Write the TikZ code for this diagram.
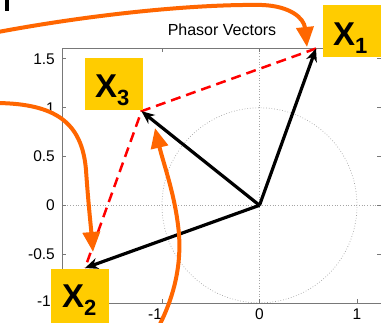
\documentclass[tikz,border=0pt]{standalone}
\usepackage{fontspec}
\setmainfont{Liberation Sans}
\usetikzlibrary{arrows.meta,calc}
\definecolor{xyellow}{RGB}{255,204,0}
\definecolor{xorange}{RGB}{255,102,0}
\definecolor{axgray}{RGB}{120,120,120}
\definecolor{gridgray}{RGB}{165,165,165}
\begin{document}
\begin{tikzpicture}[x=1pt,y=-1pt,
  axisline/.style={draw=axgray, line width=1pt},
  tickmark/.style={draw=axgray, line width=0.8pt},
  gridline/.style={draw=gridgray, line width=0.7pt, dotted},
  ticklabel/.style={font=\fontsize{15.5}{15.5}\selectfont, inner sep=0pt},
  vec/.style={draw=black, line width=3.2pt, -{Stealth[open,length=13pt,width=11pt,inset=4pt,line width=2.2pt]}},
  sumline/.style={draw=red, line width=2.5pt, dash pattern=on 10pt off 6pt},
  pointer/.style={draw=xorange, line width=4pt, -{Triangle[length=20pt,width=17pt]}},
  xbox/.style={fill=xyellow, inner sep=0pt, minimum width=58pt, minimum height=52pt, anchor=north west},
  xlab/.style={font=\fontsize{33}{33}\selectfont\bfseries, inner sep=0pt, anchor=base west},
  titletext/.style={font=\fontsize{16}{16}\selectfont, inner sep=0pt, anchor=base}
]
\useasboundingbox (0,0) rectangle (381,322);
\fill[white] (0,0) rectangle (381,322);

% cut-off glyph at top left
\fill[black] (5,0) rectangle (9,11);

% grid and unit circle
\draw[gridline] (259.5,48) -- (259.5,303);
\draw[gridline] (62,205.3) -- (382,205.3);
\draw[gridline] (259.5,205.3) circle[radius=97.5pt];

% axes box
\draw[axisline] (62,303) -- (62,48) -- (382,48);
\draw[axisline] (62,303) -- (382,303);
\foreach \yy in {58.8,107.7,156.5,205.3,254.1,303} {
  \draw[tickmark] (62,\yy) -- (66,\yy);
  \draw[tickmark] (377,\yy) -- (382,\yy);
}
\foreach \xx in {162,259.5,357} {
  \draw[tickmark] (\xx,48) -- (\xx,52);
  \draw[tickmark] (\xx,303) -- (\xx,299);
}

% tick labels
\node[ticklabel, anchor=east] (ly15) at (55,58.8) {1.5};
\node[ticklabel, anchor=east] (ly1) at (55,107.7) {1};
\node[ticklabel, anchor=east] (ly05) at (55,156.5) {0.5};
\node[ticklabel, anchor=east] (ly0) at (55,205.3) {0};
\node[ticklabel, anchor=east] (lym05) at (55,254.1) {-0.5};
\node[ticklabel, anchor=east] (lym1) at (51,301) {-1};
\node[ticklabel, anchor=base] (lxm1) at (155,319) {-1};
\node[ticklabel, anchor=base] (lx0) at (259.5,319) {0};
\node[ticklabel, anchor=base] (lx1) at (357,319) {1};

% title
\node[titletext] (title) at (222,35.5) {Phasor Vectors};

% phasors
\coordinate (O) at (259.5,205.3);
\coordinate (t1) at (316,48.5);
\coordinate (t2) at (85,268);
\coordinate (t3) at (141.5,111.2);
\draw[sumline] (t1) -- (t3) -- (t2);
\draw[vec] (O) -- (t1);
\draw[vec] (O) -- (t2);
\draw[vec] (O) -- (t3);

% orange pointers
\coordinate (p1s) at (-2,32);
\coordinate (p1e) at (307,47);
\coordinate (p2s) at (-2,103);
\coordinate (p2e) at (93,252);
\coordinate (p3s) at (160,324);
\coordinate (p3e) at (155,128);
\draw[pointer] (p1s) .. controls (100,13) and (200,4) .. (262,5) .. controls (290,6) and (304,18) .. (p1e);
\draw[pointer] (p2s) .. controls (55,104) and (82,122) .. (86,170) .. controls (88,200) and (91,228) .. (p2e);
\draw[pointer] (p3s) .. controls (174,296) and (183,262) .. (178,225) .. controls (174,192) and (163,162) .. (p3e);

% labels
\node[xbox] (b1) at (323,5) {};
\node[xlab] (l1) at (333,45) {X\raisebox{-8pt}{\fontsize{22}{22}\selectfont 1}};
\node[xbox] (b3) at (85,58) {};
\node[xlab] (l3) at (95,97) {X\raisebox{-8pt}{\fontsize{22}{22}\selectfont 3}};
\node[xbox, minimum height=56pt] (b2) at (51,269) {};
\node[xlab] (l2) at (62,307) {X\raisebox{-8pt}{\fontsize{22}{22}\selectfont 2}};
\end{tikzpicture}
\end{document}
